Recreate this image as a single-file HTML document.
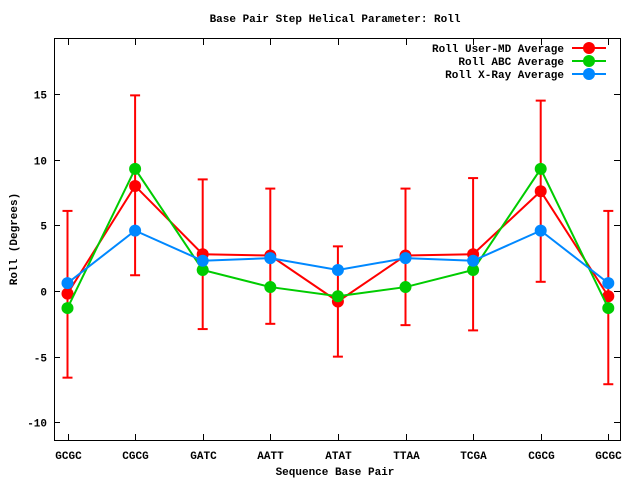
<!DOCTYPE html>
<html><head><style>body{margin:0;background:#fff}svg{display:block}text{font-family:"Liberation Mono",monospace;font-weight:bold;font-size:11px;fill:#000}</style></head><body>
<svg width="640" height="480" xmlns="http://www.w3.org/2000/svg">
<text x="335" y="22" text-anchor="middle">Base Pair Step Helical Parameter: Roll</text>
<rect x="54.5" y="38.5" width="566" height="402" fill="none" stroke="#000" stroke-width="1"/>
<g id="ax" stroke="#000" stroke-width="1"></g>
<g id="lab"></g>
<text x="335" y="475" text-anchor="middle">Sequence Base Pair</text>
<text transform="translate(17,239) rotate(-90)" text-anchor="middle">Roll (Degrees)</text>
<g id="plot"></g>
<g>
<text x="564" y="52" text-anchor="end">Roll User-MD Average</text>
<line x1="572" y1="48" x2="606" y2="48" stroke="#f00" stroke-width="2"/><circle cx="589" cy="48" r="6" fill="#f00"/>
<text x="564" y="65" text-anchor="end">Roll ABC Average</text>
<line x1="572" y1="61" x2="606" y2="61" stroke="#0c0" stroke-width="2"/><circle cx="589" cy="61" r="6" fill="#0c0"/>
<text x="564" y="78" text-anchor="end">Roll X-Ray Average</text>
<line x1="572" y1="74" x2="606" y2="74" stroke="#08f" stroke-width="2"/><circle cx="589" cy="74" r="6" fill="#08f"/>
</g>
</svg>
<script>
const ns="http://www.w3.org/2000/svg";
function el(p,t,a,txt){const e=document.createElementNS(ns,t);for(const k in a)e.setAttribute(k,a[k]);if(txt!==undefined)e.textContent=txt;document.getElementById(p).appendChild(e);return e;}
const X=i=>67.5+67.6*i, Y=v=>291-v*13.13;
const names=["GCGC","CGCG","GATC","AATT","ATAT","TTAA","TCGA","CGCG","GCGC"];
[-10,-5,0,5,10,15].forEach(v=>{const y=Math.round(Y(v))+0.5;el("ax","line",{x1:54,y1:y,x2:60,y2:y});el("ax","line",{x1:620,y1:y,x2:614,y2:y});el("lab","text",{x:47,y:y+4,"text-anchor":"end"},v);});
names.forEach((n,i)=>{const x=Math.round(X(i))+0.5;el("ax","line",{x1:x,y1:440,x2:x,y2:434});el("ax","line",{x1:x,y1:39,x2:x,y2:45});el("lab","text",{x:x,y:459,"text-anchor":"middle"},n);});
const red=[-0.2,8.0,2.8,2.7,-0.8,2.7,2.8,7.6,-0.4];
const lo=[-6.6,1.2,-2.9,-2.5,-5.0,-2.6,-3.0,0.7,-7.1], hi=[6.1,14.9,8.5,7.8,3.4,7.8,8.6,14.5,6.1];
const green=[-1.3,9.3,1.6,0.3,-0.4,0.3,1.6,9.3,-1.3];
const blue=[0.6,4.6,2.3,2.5,1.6,2.5,2.3,4.6,0.6];
function series(d,c){el("plot","polyline",{points:d.map((v,i)=>X(i)+","+Y(v)).join(" "),fill:"none",stroke:c,"stroke-width":2});d.forEach((v,i)=>el("plot","circle",{cx:X(i),cy:Y(v),r:6,fill:c}));}
lo.forEach((l,i)=>{const x=X(i);el("plot","line",{x1:x,y1:Y(l),x2:x,y2:Y(hi[i]),stroke:"#f00","stroke-width":2});el("plot","line",{x1:x-5,y1:Y(l),x2:x+5,y2:Y(l),stroke:"#f00","stroke-width":2});el("plot","line",{x1:x-5,y1:Y(hi[i]),x2:x+5,y2:Y(hi[i]),stroke:"#f00","stroke-width":2});});
series(red,"#f00");series(green,"#0c0");series(blue,"#08f");
</script>
</body></html>
